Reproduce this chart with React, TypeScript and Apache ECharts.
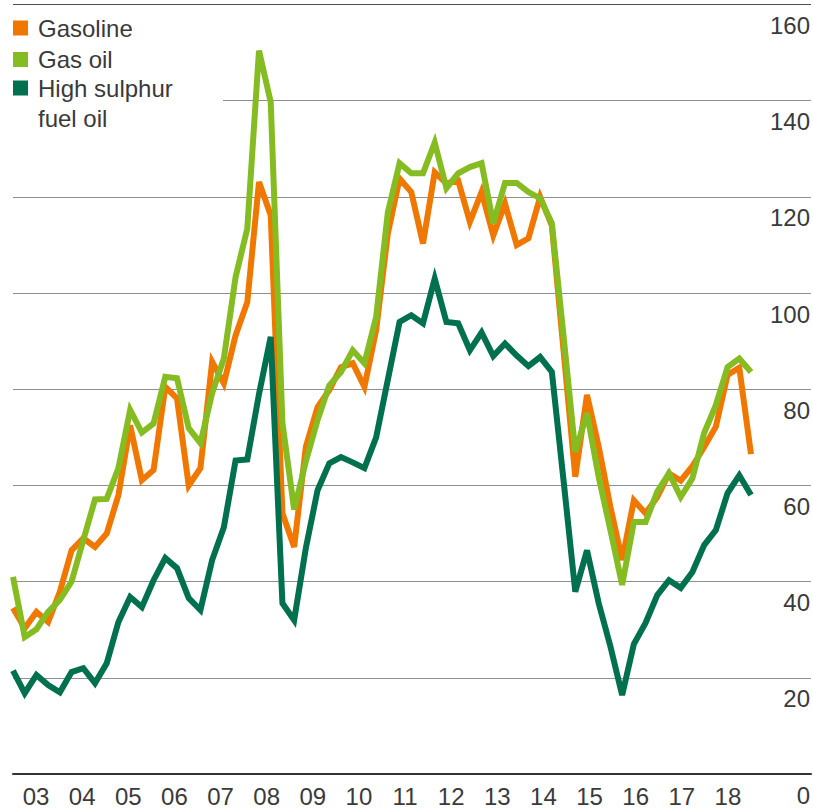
import React, { useEffect, useRef } from 'react';
import * as echarts from 'echarts';

const years = ['03', '04', '05', '06', '07', '08', '09', '10', '11', '12', '13', '14', '15', '16', '17', '18'];
const quarters = years.flatMap((y) => ['Q1', 'Q2', 'Q3', 'Q4'].map((q) => `${q} ${y}`));

const gasoline = [
  34.5, 30.3, 33.7, 31.6, 37.9, 46.5, 49, 47.2,
  50, 58, 72.5, 61.1, 63.2, 80.5, 78.1, 60,
  63.6, 85.7, 81.2, 91.2, 98.1, 123.1, 116.2, 54.2,
  47.2, 68, 76.3, 79.8, 84.6, 85.4, 80.5, 92.3,
  112.4, 123.8, 121, 110.3, 125.1, 122.8, 123.4, 114.8,
  121, 112, 118.6, 110, 111.4, 120, 114, 88,
  61.8, 78.8, 68, 55.5, 44.5, 56.9, 54.2, 57.6,
  62.5, 61, 64, 68, 72.2, 83, 84.5, 66.5,
];

const gasOil = [
  41, 28.5, 30.1, 33.7, 36.2, 40, 48.6, 57.1,
  57.2, 63.6, 75.7, 71, 72.9, 82.6, 82.3, 71.9,
  68.8, 79.2, 86.4, 103.3, 113.4, 150.4, 139.7, 73,
  55, 65, 73.6, 80.8, 83.6, 88.1, 85.4, 95,
  116.8, 127, 124.9, 124.9, 131.3, 121.8, 124.9, 126.2,
  127, 114.5, 122.9, 122.9, 121, 119.7, 114.5, 91,
  67, 75, 61.7, 50.7, 39.3, 52.4, 52.4, 58.7,
  62.5, 57.6, 61.5, 70.9, 76.7, 84.6, 86.4, 83.6,
];

const fuelOil = [
  21.5, 16.8, 20.6, 18.5, 17, 21.2, 22, 18.9,
  23, 31.6, 36.8, 34.7, 40.3, 44.9, 42.8, 36.6,
  34.1, 44.5, 51.3, 65.2, 65.4, 79, 90.9, 35.5,
  32, 47, 59, 64.6, 65.9, 64.8, 63.6, 70,
  82, 94, 95.4, 93.7, 103, 94, 93.7, 88.1,
  91.8, 86.9, 89.5, 87, 84.8, 86.7, 83.6, 61,
  37.9, 46.5, 35.5, 26.5, 16.4, 27, 31.4, 37.2,
  40.3, 38.7, 42, 47.6, 50.7, 58.4, 62.1, 58,
];

const seriesNames = ['Gasoline', 'Gas oil', 'High sulphur fuel oil'];
const seriesColors = ['#F07800', '#85BC22', '#00704F'];

export default function App() {
  const ref = useRef<HTMLDivElement>(null);
  useEffect(() => {
    document.body.style.margin = '0';
    const chart = echarts.init(ref.current!, null, { renderer: 'svg' });
    const font = '"Liberation Sans", Arial, sans-serif';
    const textColor = '#3a3a3a';
    const legendBase: any = {
      orient: 'vertical',
      left: 13,
      padding: 0,
      itemWidth: 15,
      itemHeight: 15,
      icon: 'rect',
      selectedMode: false,
      itemStyle: { borderWidth: 0 },
      textStyle: { fontSize: 24, fontFamily: font, color: textColor, lineHeight: 30, padding: [0, 0, 0, 5] },
    };
    chart.setOption({
      animation: false,
      color: seriesColors,
      grid: [
        { left: 13, right: 1, top: 4.5, bottom: 37 },
        { left: 13, right: 62, top: 4.5, bottom: 37 },
      ],
      xAxis: [
        {
          type: 'value', gridIndex: 0, min: 0, max: 1,
          axisLabel: { show: false }, axisTick: { show: false }, splitLine: { show: false },
          axisLine: { show: true, lineStyle: { color: '#333', width: 2 } },
        },
        {
          type: 'category', gridIndex: 1, data: quarters, boundaryGap: false, position: 'top', show: false,
        },
        {
          type: 'category', gridIndex: 1, data: years, boundaryGap: true, position: 'bottom',
          axisLine: { show: false }, axisTick: { show: false }, splitLine: { show: false },
          axisLabel: { interval: 0, fontSize: 24, fontFamily: font, color: textColor, margin: 10 },
        },
      ],
      yAxis: [
        {
          type: 'value', gridIndex: 0, position: 'right', min: 0, max: 160, interval: 20,
          axisLine: { show: false }, axisTick: { show: false },
          axisLabel: {
            inside: true, margin: 1, fontSize: 24, fontFamily: font, color: textColor,
            verticalAlign: 'top', lineHeight: 24, padding: [9, 0, 0, 0],
          },
          splitLine: {
            show: true,
            lineStyle: {
              width: 1,
              color: ['#333', '#8f8f8f', '#8f8f8f', '#8f8f8f', '#8f8f8f', '#8f8f8f', '#8f8f8f', '#8f8f8f', '#4d4d4d'],
            },
          },
        },
        { type: 'value', gridIndex: 1, min: 0, max: 160, show: false },
      ],
      legend: [
        { ...legendBase, top: 13, data: [seriesNames[0]] },
        { ...legendBase, top: 44.5, data: [seriesNames[1]] },
        {
          ...legendBase,
          top: 73,
          itemHeight: 45,
          icon: 'path://M0,0h15v15h-15z M0,44.9h0.1v0.1h-0.1z',
          data: [seriesNames[2]],
          formatter: () => 'High sulphur\nfuel oil',
        },
      ],
      graphic: [
        {
          type: 'rect', z: 1,
          shape: { x: 12, y: 97, width: 211, height: 7 },
          style: { fill: '#ffffff' },
        },
      ],
      series: [
        { name: seriesNames[0], data: gasoline },
        { name: seriesNames[1], data: gasOil },
        { name: seriesNames[2], data: fuelOil },
      ].map((s, i) => ({
        ...s,
        type: 'line',
        xAxisIndex: 1,
        yAxisIndex: 1,
        symbol: 'none',
        lineStyle: { width: 6, color: seriesColors[i], join: 'miter' },
        itemStyle: { color: seriesColors[i] },
        z: 2 + i,
      })),
    });
    return () => chart.dispose();
  }, []);
  return <div ref={ref} style={{ width: 813, height: 811 }} />;
}
